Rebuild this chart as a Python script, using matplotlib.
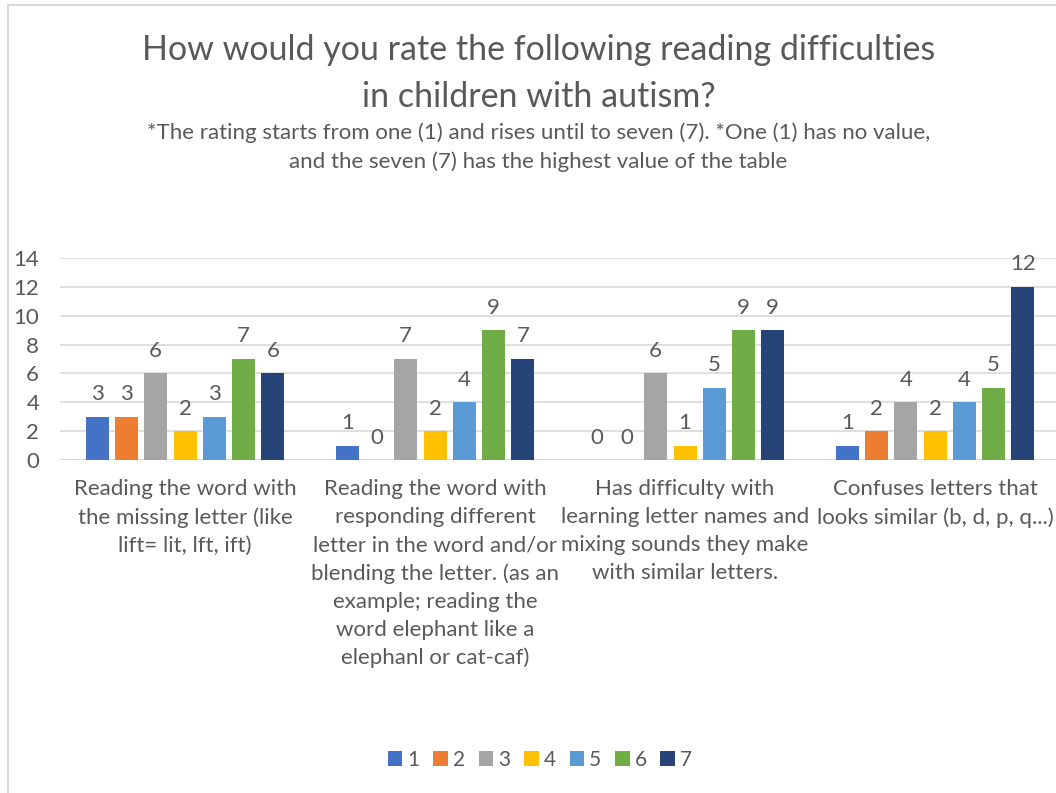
import matplotlib.pyplot as plt
import matplotlib.patches as mpatches
import numpy as np

# categories (x axis) and one value list per rating
categories = [
    "Reading the word with\nthe missing letter (like\nlift= lit, lft, ift)",
    "Reading the word with\nresponding different\nletter in the word and/or\nblending the letter. (as an\nexample; reading the\nword elephant like a\nelephanl or cat-caf)",
    "Has difficulty with\nlearning letter names and\nmixing sounds they make\nwith similar letters.",
    "Confuses letters that\nlooks similar (b, d, p, q...)",
]
series_names = ["1", "2", "3", "4", "5", "6", "7"]
rating_1 = [3, 1, 0, 1]
rating_2 = [3, 0, 0, 2]
rating_3 = [6, 7, 6, 4]
rating_4 = [2, 2, 1, 2]
rating_5 = [3, 4, 5, 4]
rating_6 = [7, 9, 9, 5]
rating_7 = [6, 7, 9, 12]
series_values = [rating_1, rating_2, rating_3, rating_4, rating_5, rating_6, rating_7]

colors = ["#4472C4", "#ED7D31", "#A5A5A5", "#FFC000", "#5B9BD5", "#70AD47", "#264478"]
text_color = "#595959"

plt.rcParams['font.family'] = ['Lato', 'DejaVu Sans']

fig = plt.figure(figsize=(10.56, 7.93), dpi=100)

# chart area border (light grey, as in the reference)
fig.patches.append(mpatches.Rectangle((8 / 1056, -0.01), 1.05, 1 - 5 / 793 + 0.01,
                                      transform=fig.transFigure, fill=False,
                                      edgecolor="#D9D9D9", linewidth=1.5))

ax = fig.add_axes([60 / 1056, 333 / 793, 1000 / 1056, 202 / 793])

x = np.arange(len(categories))
slot = 0.117
bar_w = 0.092
offsets = (np.arange(len(series_names)) - 3) * slot

for i, (name, vals) in enumerate(zip(series_names, series_values)):
    bars = ax.bar(x + offsets[i], vals, width=bar_w, color=colors[i], label=name, zorder=3)
    for rect, v in zip(bars, vals):
        ax.annotate(str(v), (rect.get_x() + rect.get_width() / 2, v),
                    xytext=(0, 9), textcoords="offset points",
                    ha="center", va="bottom", fontsize=16, color=text_color)

ax.set_xlim(-0.5, len(categories) - 0.5)
ax.set_ylim(0, 14)
ax.set_yticks(range(0, 15, 2))
ax.yaxis.grid(True, color="#D9D9D9", linewidth=1.2, zorder=0)
ax.set_axisbelow(True)
for s in ax.spines.values():
    s.set_visible(False)
ax.axhline(0, color="#D9D9D9", linewidth=1.2, zorder=1)

ax.set_xticks(x)
ax.set_xticklabels(categories, fontsize=16, color=text_color, linespacing=1.49, va="top")
ax.tick_params(axis="x", length=0, pad=14)
ax.tick_params(axis="y", length=0, pad=15, labelsize=16, labelcolor=text_color)

fig.text(0.51, 1 - 50 / 793, "How would you rate the following reading difficulties",
         ha="center", va="center", fontsize=24.5, color=text_color)
fig.text(0.51, 1 - 97 / 793, "in children with autism?",
         ha="center", va="center", fontsize=24.5, color=text_color)
fig.text(0.51, 1 - 133 / 793,
         "*The rating starts from one (1) and rises until to seven (7). *One (1) has no value,",
         ha="center", va="center", fontsize=16, color=text_color)
fig.text(0.51, 1 - 162 / 793, "and the seven (7) has the highest value of the table",
         ha="center", va="center", fontsize=16, color=text_color)

fig.legend(loc="center", bbox_to_anchor=(540 / 1056, 33 / 793), ncol=7, frameon=False,
           fontsize=15, handlelength=0.7, handleheight=0.7, handletextpad=0.25,
           columnspacing=0.65, labelcolor=text_color)

fig.savefig("out.png", dpi=100)
